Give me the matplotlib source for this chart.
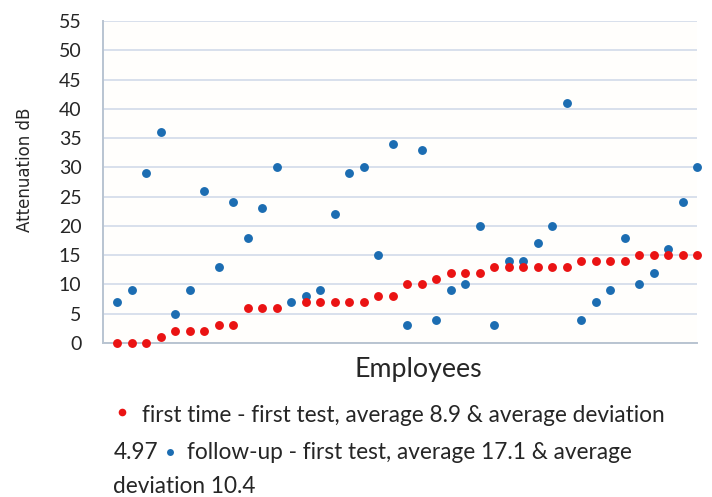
import numpy as np
import matplotlib
matplotlib.use("Agg")
import matplotlib.pyplot as plt
from matplotlib.lines import Line2D

# values (41 employees, sorted by first test)
first_time = [0, 0, 0, 1, 2, 2, 2, 3, 3, 6, 6, 6, np.nan, 7, 7, 7, 7, 7, 8, 8,
              10, 10, 11, 12, 12, 12, 13, 13, 13, 13, 13, 13, 14, 14, 14, 14,
              15, 15, 15, 15, 15]
follow_up = [7, 9, 29, 36, 5, 9, 26, 13, 24, 18, 23, 30, 7, 8, 9, 22, 29, 30,
             15, 34, 3, 33, 4, 9, 10, 20, 3, 14, 14, 17, 20, 41, 4, 7, 9, 18,
             10, 12, 16, 24, 30]
y_ticks = list(range(0, 60, 5))
label_first = "first time - first test, average 8.9 & average deviation"
label_follow = "follow-up - first test, average 17.1 & average"

red = "#ea1313"
blue = "#1c6db2"
grid_col = "#d8e0ec"
spine_col = "#b9c4d1"
text_col = "#262626"
font = ["Lato", "DejaVu Sans"]

W, H = 712, 497
fig = plt.figure(figsize=(W / 100, H / 100), dpi=100)
fig.patch.set_facecolor("white")

# plot area in pixels of the reference: x 103..697, y 21..343
ax = fig.add_axes([103 / W, 1 - 343 / H, (697 - 103) / W, (343 - 21) / H])
ax.set_facecolor("#fffefc")

x = np.arange(len(follow_up))
ax.plot(x, follow_up, "o", color=blue, ms=6.4, mew=0, clip_on=False, zorder=3)
ax.plot(x, first_time, "o", color=red, ms=6.4, mew=0, clip_on=False, zorder=4)

ax.set_xlim(-1, len(follow_up) - 1)
ax.set_ylim(0, 55)
ax.set_yticks(y_ticks)
ax.set_xticks([])
ax.yaxis.grid(True, color=grid_col, lw=1.4)
ax.set_axisbelow(True)
for s in ["top", "right"]:
    ax.spines[s].set_visible(False)
for s in ["left", "bottom"]:
    ax.spines[s].set_color(spine_col)
    ax.spines[s].set_linewidth(1.4)
ax.tick_params(axis="y", length=0, pad=15.5, labelsize=14, labelcolor=text_col)
for t in ax.get_yticklabels():
    t.set_family(font)

fig.text(25 / W, 1 - 169.5 / H, "Attenuation dB", rotation=90, ha="center",
         va="center", fontsize=12, color=text_col,
         family=["Liberation Sans Narrow", "DejaVu Sans"])
fig.text(418 / W, 1 - 376.7 / H, "Employees", ha="center", va="baseline",
         fontsize=19.3, color=text_col, family=font)

# legend, wrapped over three lines like the original
fs = 16.3
fig.add_artist(Line2D([121.7 / W], [1 - 411.7 / H], marker="o", ms=5.5,
                      mew=0, color=red, ls="none"))
fig.text(141.7 / W, 1 - 421.7 / H, label_first, ha="left", va="baseline",
         fontsize=fs, color=text_col, family=font)
fig.text(113.3 / W, 1 - 459.3 / H, "4.97", ha="left", va="baseline",
         fontsize=fs, color=text_col, family=font)
fig.add_artist(Line2D([170 / W], [1 - 451.7 / H], marker="o", ms=5,
                      mew=0, color=blue, ls="none"))
fig.text(187 / W, 1 - 459.3 / H, label_follow, ha="left", va="baseline",
         fontsize=fs, color=text_col, family=font)
fig.text(113.3 / W, 1 - 493.3 / H, "deviation 10.4", ha="left", va="baseline",
         fontsize=fs, color=text_col, family=font)

fig.savefig("out.png", dpi=100)
